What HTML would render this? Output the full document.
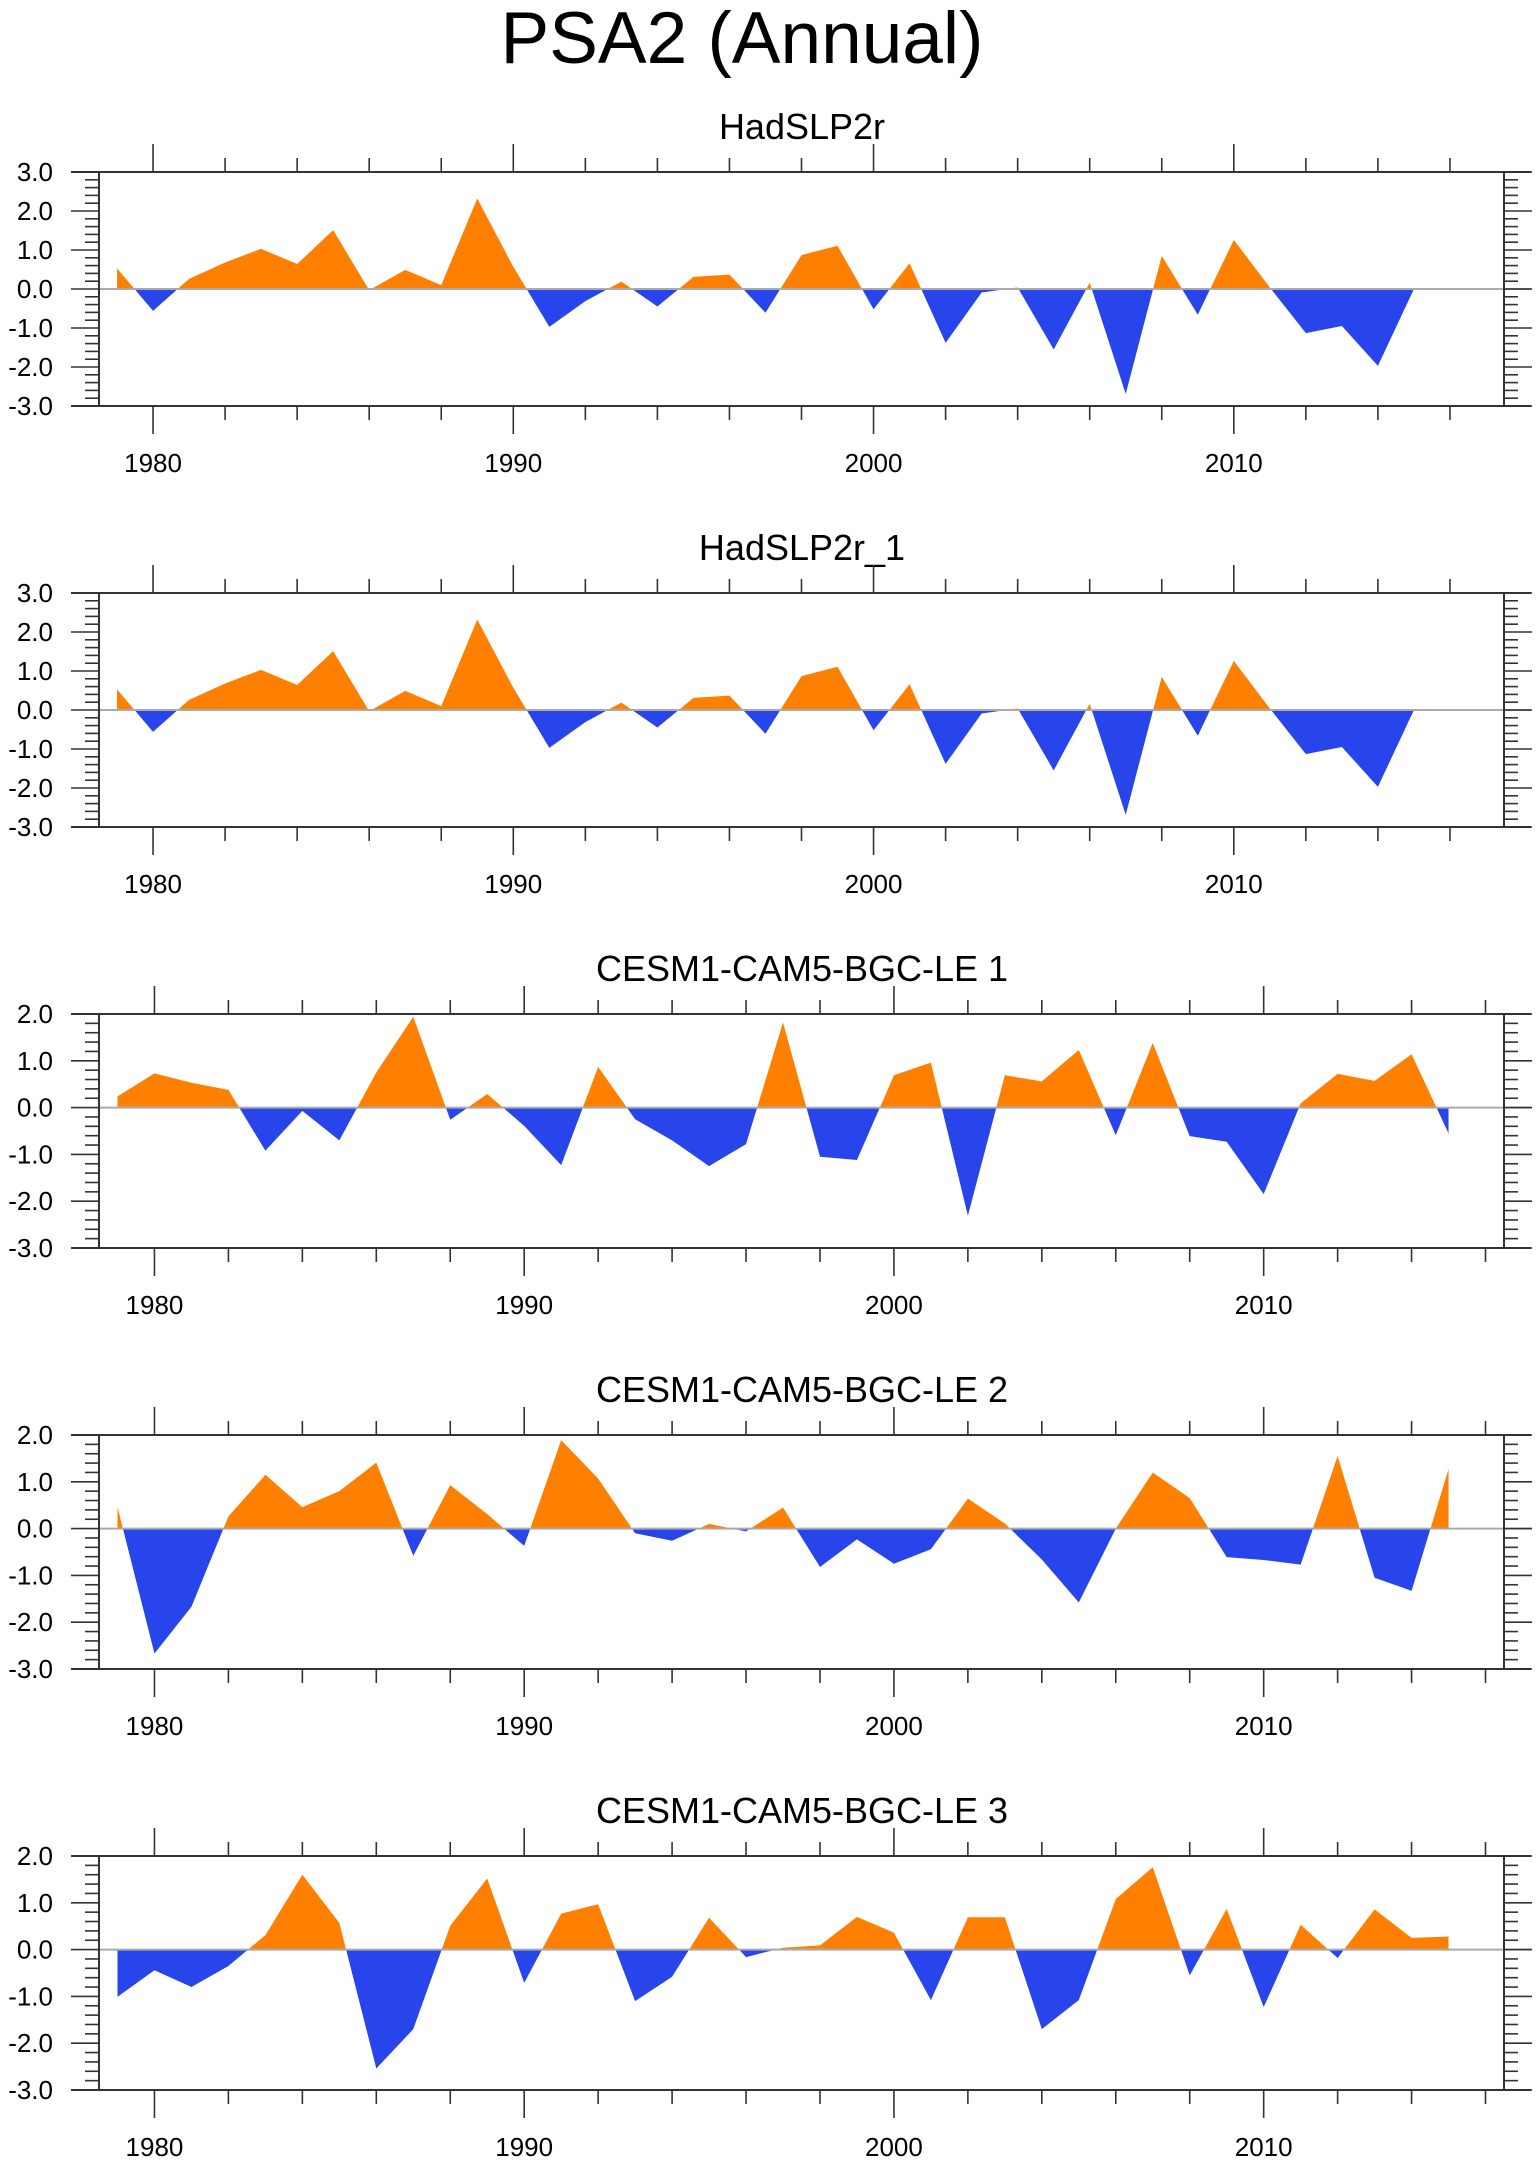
<!DOCTYPE html>
<html><head><meta charset="utf-8"><style>
html,body{margin:0;padding:0;background:#fff;}
svg{display:block;}
text{font-family:"Liberation Sans",sans-serif;fill:#000;}
</style></head><body>
<svg id="chart" width="1540" height="2166" viewBox="0 0 1540 2166" xmlns="http://www.w3.org/2000/svg">
<text x="742" y="63" font-size="73" text-anchor="middle">PSA2 (Annual)</text>
</svg>
<script>
const panelTitles = ["HadSLP2r","HadSLP2r_1","CESM1-CAM5-BGC-LE 1","CESM1-CAM5-BGC-LE 2","CESM1-CAM5-BGC-LE 3"];
const years = [1979,1980,1981,1982,1983,1984,1985,1986,1987,1988,1989,1990,1991,1992,1993,1994,1995,1996,1997,1998,1999,2000,2001,2002,2003,2004,2005,2006,2007,2008,2009,2010,2011,2012,2013,2014,2015];
const hadslp = [0.53,-0.56,0.26,0.68,1.03,0.64,1.51,-0.03,0.49,0.10,2.32,0.57,-0.97,-0.31,0.19,-0.45,0.31,0.37,-0.61,0.87,1.11,-0.52,0.66,-1.38,-0.09,0.04,-1.55,0.16,-2.69,0.85,-0.66,1.26,0.04,-1.13,-0.95,-1.97,0.0];
const hadslp1 = [0.53,-0.56,0.26,0.68,1.03,0.64,1.51,-0.03,0.49,0.10,2.32,0.57,-0.97,-0.31,0.19,-0.45,0.31,0.37,-0.61,0.87,1.11,-0.52,0.66,-1.38,-0.09,0.04,-1.55,0.16,-2.69,0.85,-0.66,1.26,0.04,-1.13,-0.95,-1.97,0.0];
const cesm1 = [0.24,0.73,0.53,0.38,-0.92,-0.07,-0.70,0.75,1.94,-0.26,0.29,-0.39,-1.23,0.87,-0.25,-0.70,-1.25,-0.78,1.82,-1.05,-1.12,0.69,0.96,-2.31,0.69,0.56,1.23,-0.59,1.38,-0.61,-0.73,-1.85,0.09,0.72,0.57,1.14,-0.55];
const cesm2 = [0.46,-2.67,-1.67,0.26,1.15,0.46,0.80,1.41,-0.58,0.93,0.31,-0.37,1.89,1.07,-0.10,-0.26,0.10,-0.06,0.45,-0.82,-0.23,-0.75,-0.44,0.64,0.11,-0.66,-1.58,0.0,1.20,0.65,-0.61,-0.67,-0.77,1.55,-1.05,-1.33,1.27];
const cesm3 = [-1.01,-0.44,-0.80,-0.35,0.31,1.60,0.57,-2.54,-1.70,0.51,1.52,-0.71,0.77,0.97,-1.10,-0.58,0.68,-0.16,0.04,0.09,0.70,0.36,-1.08,0.69,0.69,-1.70,-1.08,1.08,1.76,-0.55,0.87,-1.23,0.53,-0.18,0.86,0.25,0.28];
const xTickLabels = ["1980","1990","2000","2010"];
const yTickLabelsA = ["3.0","2.0","1.0","0.0","-1.0","-2.0","-3.0"];
const yTickLabelsB = ["2.0","1.0","0.0","-1.0","-2.0","-3.0"];
const panelSeries = [hadslp,hadslp1,cesm1,cesm2,cesm3];
const panelYMax = [3,3,2,2,2];
const panelXMax = [2017.5,2017.5,2016.5,2016.5,2016.5];

const NS="http://www.w3.org/2000/svg";
const svg=document.getElementById('chart');
function mk(tag,attrs,parent){const e=document.createElementNS(NS,tag);for(const k in attrs)e.setAttribute(k,attrs[k]);(parent||svg).appendChild(e);return e;}

const L=99,R=1504,AX0=71,AX1=1531,H=234;
const tops=[172,593,1014,1435,1856];
for(let p=0;p<5;p++){
  const top=tops[p],bot=top+H;
  const ymax=panelYMax[p],ymin=-3;
  const xmin=1978.5,xmax=panelXMax[p];
  const xs=v=>L+(v-xmin)/(xmax-xmin)*(R-L);
  const ys=v=>top+(ymax-v)/(ymax-ymin)*H;
  const g=mk('g',{});
  
  
  const t=mk('text',{x:802,y:top-33,'font-size':36,'text-anchor':'middle'},g);
  
  
  t.textContent=panelTitles[p];
  const data=panelSeries[p];
  let d='M'+xs(years[0])+','+ys(0);
  for(let i=0;i<years.length;i++)d+=' L'+xs(years[i])+','+ys(data[i]);
  d+=' L'+xs(years[years.length-1])+','+ys(0)+' Z';
  const cid='cp'+p;
  const defs=mk('defs',{},g);
  const c1=mk('clipPath',{id:cid+'a'},defs);mk('rect',{x:0,y:top-50,width:1540,height:ys(0)-(top-50)},c1);
  const c2=mk('clipPath',{id:cid+'b'},defs);mk('rect',{x:0,y:ys(0),width:1540,height:bot+50-ys(0)},c2);
  const pos=mk('path',{d:d,fill:'#FF8000','clip-path':'url(#'+cid+'a)'},g);
  
  
  const neg=mk('path',{d:d,fill:'#2844EB','clip-path':'url(#'+cid+'b)'},g);
  
  
  const zl=mk('line',{x1:L,x2:AX1,y1:ys(0),y2:ys(0),stroke:'#aaa','stroke-width':2},g);
  
  
  const st={stroke:'#333','stroke-width':2};
  mk('line',Object.assign({x1:AX0,x2:AX1,y1:top,y2:top},st),g);
  mk('line',Object.assign({x1:AX0,x2:AX1,y1:bot,y2:bot},st),g);
  mk('line',Object.assign({x1:L,x2:L,y1:top,y2:bot},st),g);
  mk('line',Object.assign({x1:R,x2:R,y1:top,y2:bot},st),g);
  for(let k=0;k<=(ymax-ymin)*5;k++){
    const v=ymax-k*0.2,y=ys(v),major=(k%5===0);
    const len=major?28:14;
    mk('line',Object.assign({x1:L-len,x2:L,y1:y,y2:y},st,{'stroke-width':1.6}),g);
    mk('line',Object.assign({x1:R,x2:R+len,y1:y,y2:y},st,{'stroke-width':1.6}),g);
  }
  const yl=(ymax===3)?yTickLabelsA:yTickLabelsB;
  yl.forEach((s,i)=>{
    const tt=mk('text',{x:53,y:ys(parseFloat(s))+9,'font-size':26,'text-anchor':'end'},g);
    
    
    tt.textContent=s;
  });
  for(let yr=1980;yr<=2016;yr+=2){
    const x=xs(yr),major=(yr%10===0),len=major?28:14;
    mk('line',Object.assign({x1:x,x2:x,y1:top-len,y2:top},st,{'stroke-width':1.6}),g);
    mk('line',Object.assign({x1:x,x2:x,y1:bot,y2:bot+len},st,{'stroke-width':1.6}),g);
  }
  xTickLabels.forEach(s=>{
    const tt=mk('text',{x:xs(parseInt(s)),y:bot+66,'font-size':26,'text-anchor':'middle'},g);
    
    
    tt.textContent=s;
  });
}
</script>
</body></html>
